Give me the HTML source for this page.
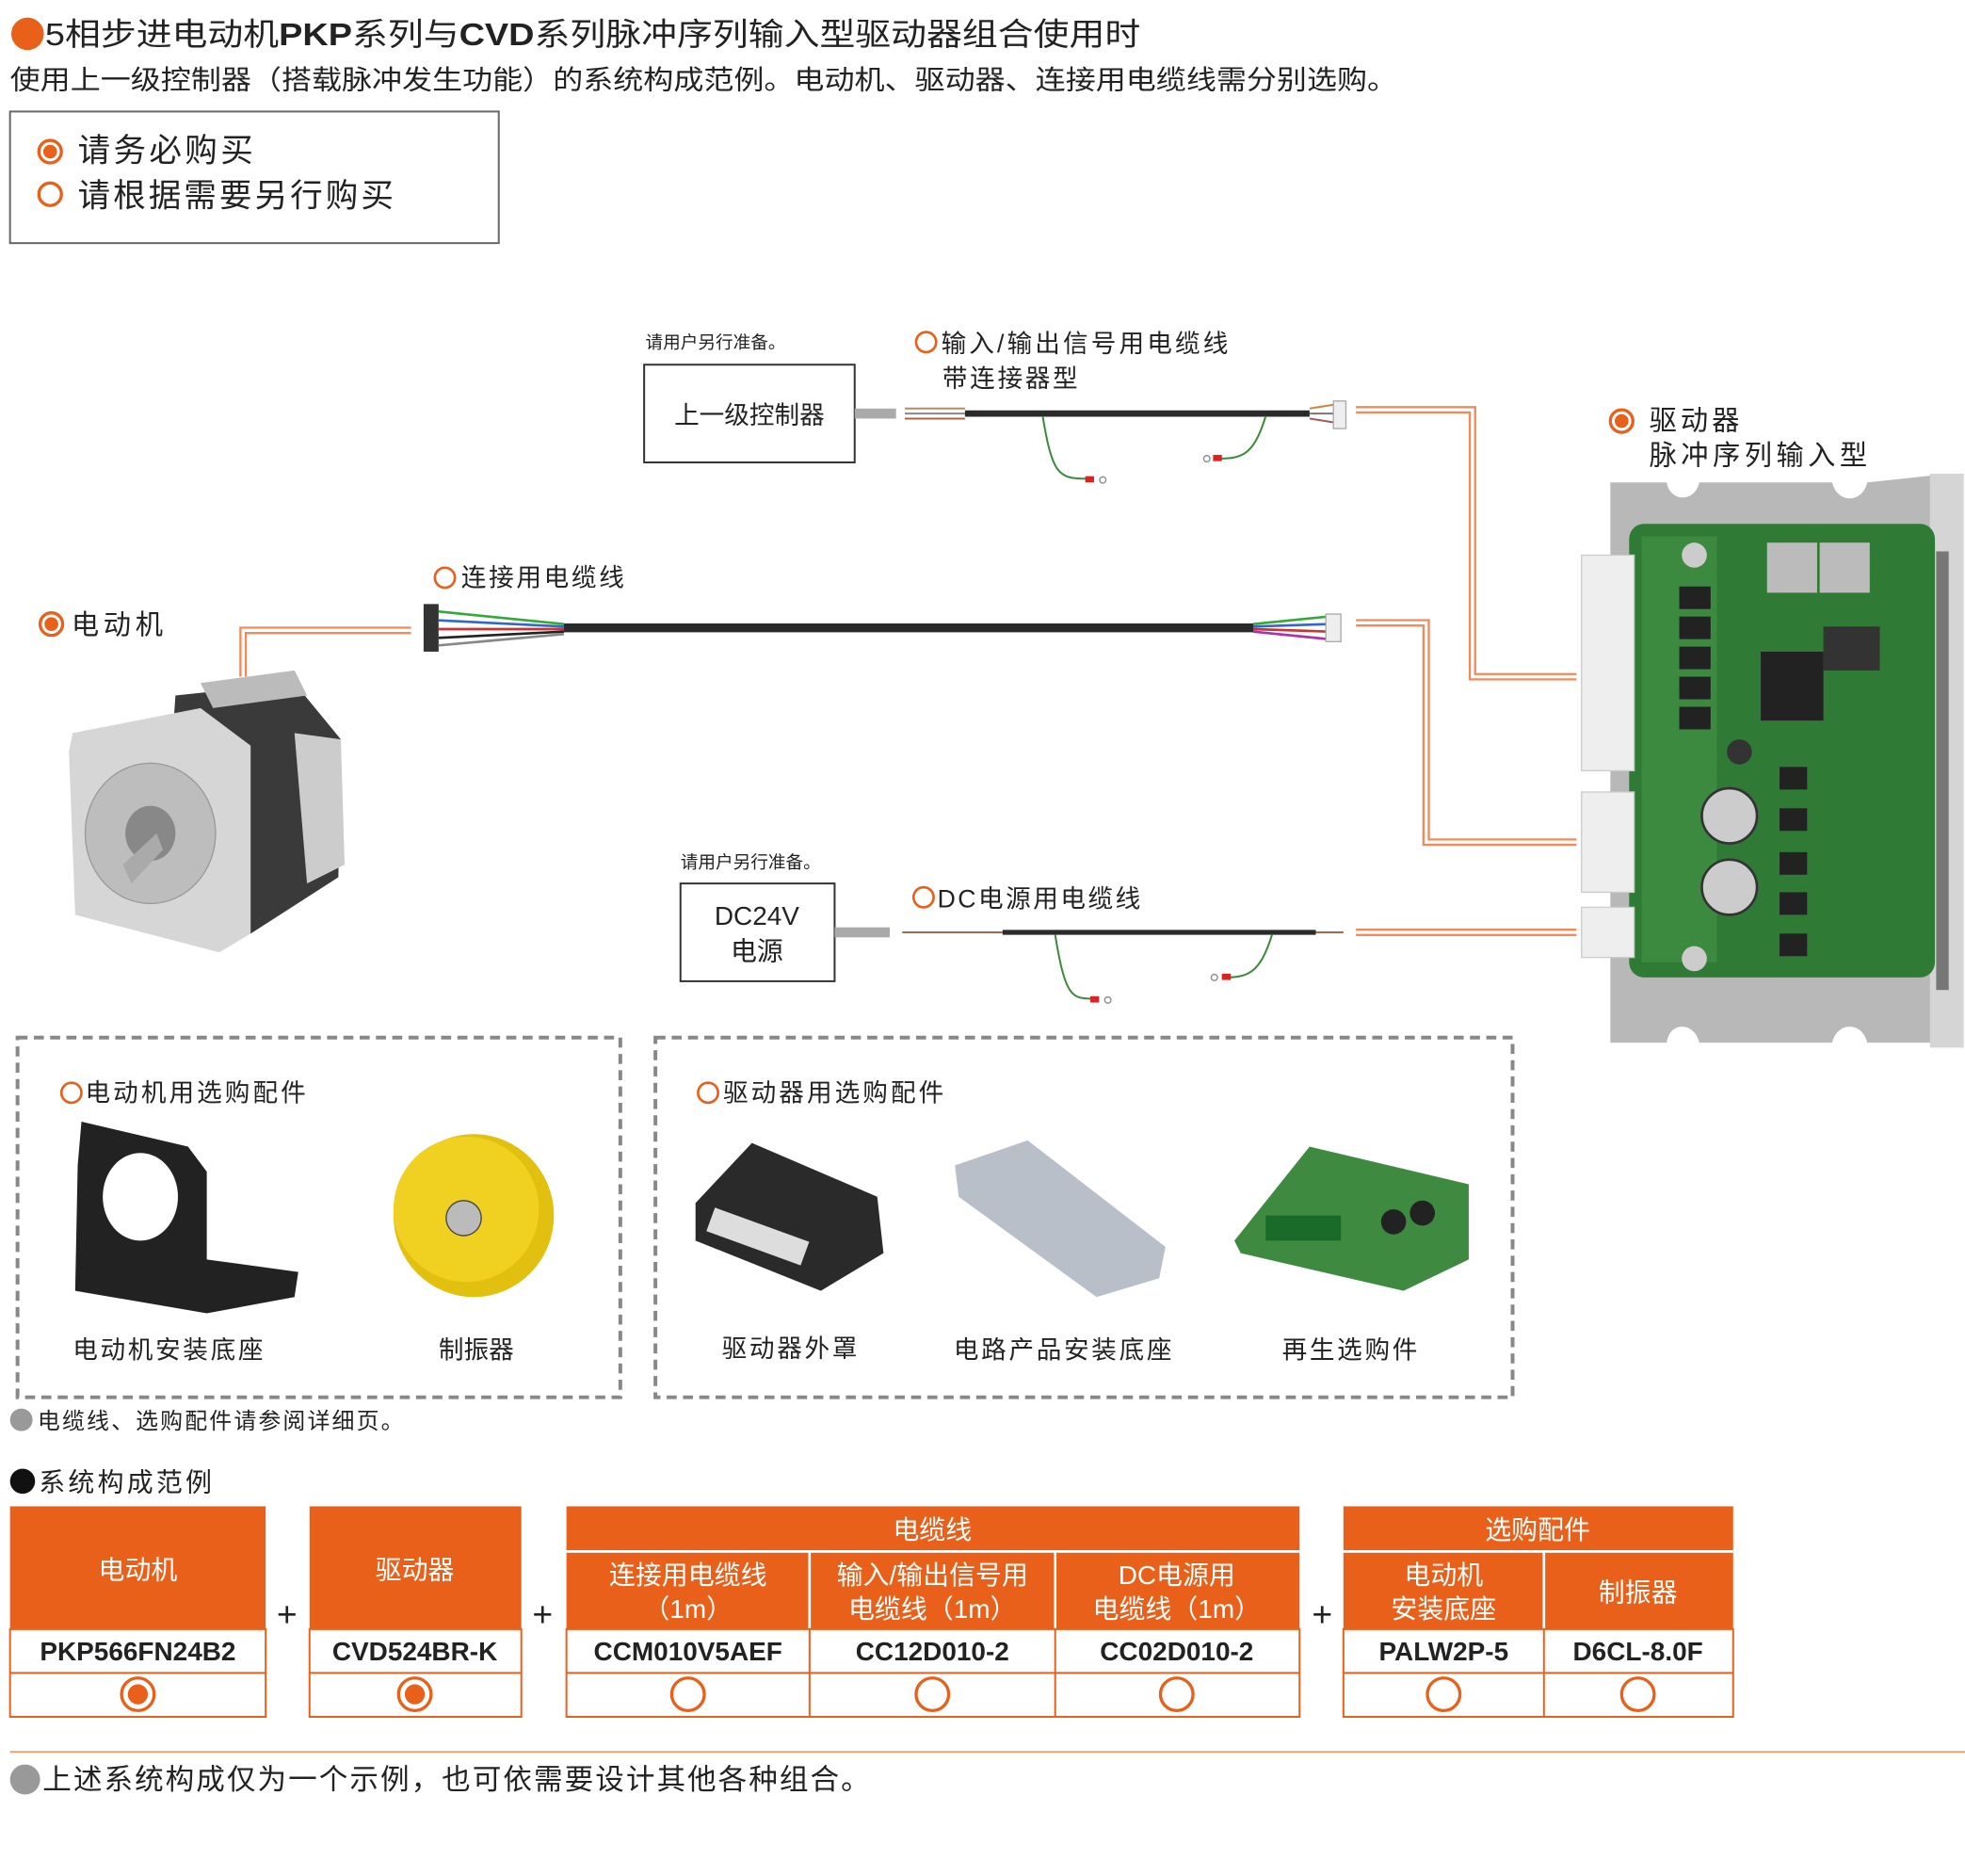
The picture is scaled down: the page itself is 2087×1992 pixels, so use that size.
<!DOCTYPE html>
<html><head><meta charset="utf-8"><style>
html,body{margin:0;padding:0;background:#fff;width:2087px;height:1992px;overflow:hidden}
svg text{font-family:"Liberation Sans","Noto Sans CJK SC",sans-serif}
</style></head><body>
<svg width="2087" height="1992" viewBox="0 0 1568 1497" preserveAspectRatio="none" xmlns="http://www.w3.org/2000/svg">
<defs>
<g id="fr"><circle r="9" fill="#fff" stroke="#e8601a" stroke-width="2.5"/><circle r="5.5" fill="#e8601a"/></g>
<g id="hr"><circle r="9" fill="#fff" stroke="#e8601a" stroke-width="2.5"/></g>
</defs>
<!-- title -->
<circle cx="22" cy="27" r="13" fill="#e8601a"/>
<text x="36" y="36" font-size="25" fill="#222" textLength="874" lengthAdjust="spacingAndGlyphs">5相步进电动机<tspan font-weight="bold">PKP</tspan>系列与<tspan font-weight="bold">CVD</tspan>系列脉冲序列输入型驱动器组合使用时</text>
<text x="8" y="71" font-size="21.5" fill="#222" textLength="1107" lengthAdjust="spacingAndGlyphs">使用上一级控制器（搭载脉冲发生功能）的系统构成范例。电动机、驱动器、连接用电缆线需分别选购。</text>
<rect x="8" y="89" width="390" height="105" fill="none" stroke="#666" stroke-width="1.5"/>
<use href="#fr" x="40" y="121"/><text x="62" y="129" font-size="26" fill="#222" textLength="140">请务必购买</text>
<use href="#hr" x="40" y="155"/><text x="62" y="165" font-size="26" fill="#222" textLength="252">请根据需要另行购买</text>

<!-- orange connectors (double lines) -->
<g fill="none" stroke="#f08a5a" stroke-width="6">
<polyline points="1082,327 1175,327 1175,540 1258,540"/>
<polyline points="194,540 194,503 328,503"/>
<polyline points="1082,497 1138,497 1138,672 1258,672"/>
<polyline points="1082,744 1258,744"/>
</g>
<g fill="none" stroke="#fff" stroke-width="2.5">
<polyline points="1082,327 1175,327 1175,540 1258,540"/>
<polyline points="194,540 194,503 328,503"/>
<polyline points="1082,497 1138,497 1138,672 1258,672"/>
<polyline points="1082,744 1258,744"/>
</g>

<!-- controller -->
<text x="515" y="278" font-size="14" fill="#222">请用户另行准备。</text>
<rect x="514" y="291" width="168" height="78" fill="#fff" stroke="#333" stroke-width="1.5"/>
<text x="598" y="338" font-size="20" fill="#222" text-anchor="middle">上一级控制器</text>
<rect x="682" y="326" width="33" height="8" fill="#aaa"/>
<circle cx="739" cy="273" r="8" fill="#fff" stroke="#e8601a" stroke-width="2"/>
<text x="751" y="281" font-size="20" fill="#222" textLength="229">输入/输出信号用电缆线</text>
<text x="752" y="309" font-size="20" fill="#222" textLength="108">带连接器型</text>
<!-- IO cable -->
<g fill="none">
<line x1="722" y1="326" x2="770" y2="326" stroke="#b86" stroke-width="1.5"/>
<line x1="722" y1="330" x2="770" y2="330" stroke="#888" stroke-width="1.5"/>
<line x1="722" y1="334" x2="770" y2="334" stroke="#a64" stroke-width="1.5"/>
<line x1="770" y1="330" x2="1045" y2="330" stroke="#2a2a2a" stroke-width="5"/>
<line x1="1045" y1="326" x2="1070" y2="322" stroke="#c84" stroke-width="1.5"/>
<line x1="1045" y1="330" x2="1070" y2="330" stroke="#777" stroke-width="1.5"/>
<line x1="1045" y1="334" x2="1070" y2="338" stroke="#a55" stroke-width="1.5"/>
<path d="M832,332 C840,380 845,382 868,382" stroke="#3a8a3a" stroke-width="1.5"/>
<path d="M1010,332 C1000,365 990,366 970,366" stroke="#3a8a3a" stroke-width="1.5"/>
</g>
<rect x="866" y="380" width="7" height="5" fill="#d22"/><circle cx="880" cy="383" r="2.5" fill="none" stroke="#888"/>
<rect x="968" y="363" width="7" height="5" fill="#d22"/><circle cx="963" cy="366" r="2.5" fill="none" stroke="#888"/>
<rect x="1064" y="320" width="10" height="22" fill="#eee" stroke="#aaa"/>

<!-- driver label -->
<use href="#fr" x="1294" y="336"/>
<text x="1316" y="343" font-size="22" fill="#222" textLength="72">驱动器</text>
<text x="1316" y="371" font-size="22" fill="#222" textLength="174">脉冲序列输入型</text>
<!-- driver photo -->
<path d="M1285,385 L1330,385 C1332,400 1352,402 1356,385 L1462,385 C1466,402 1486,402 1490,385 L1555,378 L1555,832 L1490,832 C1486,815 1466,815 1462,832 L1356,832 C1352,815 1332,815 1330,832 L1285,832 Z" fill="#b8b8b8"/>
<rect x="1540" y="378" width="27" height="458" fill="#d5d5d5"/>
<rect x="1545" y="440" width="10" height="350" fill="#777"/>
<rect x="1300" y="418" width="244" height="362" rx="12" fill="#2f7a35"/>
<rect x="1310" y="428" width="60" height="340" fill="#3b8a40"/>
<rect x="1405" y="520" width="50" height="55" fill="#222"/>
<rect x="1410" y="433" width="40" height="40" fill="#bbb"/><rect x="1452" y="433" width="40" height="40" fill="#bbb"/>
<rect x="1455" y="500" width="45" height="35" fill="#333"/>
<circle cx="1380" cy="651" r="22" fill="#ccc" stroke="#333" stroke-width="2"/>
<circle cx="1380" cy="708" r="22" fill="#ccc" stroke="#333" stroke-width="2"/>
<circle cx="1388" cy="600" r="10" fill="#333"/>
<g fill="#222"><rect x="1420" y="612" width="22" height="18"/><rect x="1420" y="645" width="22" height="18"/><rect x="1420" y="680" width="22" height="18"/><rect x="1420" y="712" width="22" height="18"/><rect x="1420" y="745" width="22" height="18"/>
<rect x="1340" y="468" width="25" height="18"/><rect x="1340" y="492" width="25" height="18"/><rect x="1340" y="516" width="25" height="18"/><rect x="1340" y="540" width="25" height="18"/><rect x="1340" y="564" width="25" height="18"/></g>
<circle cx="1352" cy="443" r="10" fill="#ccc"/><circle cx="1352" cy="765" r="10" fill="#ccc"/>
<rect x="1262" y="443" width="42" height="172" fill="#eee" stroke="#ccc"/>
<rect x="1262" y="632" width="42" height="80" fill="#eee" stroke="#ccc"/>
<rect x="1262" y="724" width="42" height="40" fill="#eee" stroke="#ccc"/>

<!-- motor -->
<use href="#fr" x="41" y="498"/>
<text x="57" y="506" font-size="22" fill="#222" textLength="73">电动机</text>
<polygon points="140,555 235,545 272,590 270,700 200,745 130,700" fill="#3a3a3a"/>
<polygon points="160,545 235,535 245,555 170,565" fill="#bbb"/>
<polygon points="58,585 160,565 200,595 200,745 175,760 60,730 55,600" fill="#d6d6d6"/>
<polygon points="235,585 272,590 275,690 245,705" fill="#ccc"/>
<ellipse cx="120" cy="665" rx="52" ry="56" fill="#bdbdbd" stroke="#999"/>
<ellipse cx="120" cy="665" rx="20" ry="22" fill="#888"/>
<polygon points="98,690 125,665 130,678 105,705" fill="#aaa"/>
<!-- connecting cable -->
<circle cx="355" cy="461" r="8" fill="#fff" stroke="#e8601a" stroke-width="2"/>
<text x="368" y="468" font-size="20" fill="#222" textLength="130">连接用电缆线</text>
<rect x="338" y="482" width="12" height="38" fill="#333"/>
<g fill="none" stroke-width="2">
<path d="M350,488 L450,498" stroke="#3a3"/><path d="M350,495 L450,500" stroke="#36c"/><path d="M350,502 L450,502" stroke="#c33"/><path d="M350,509 L450,504" stroke="#222"/><path d="M350,515 L450,506" stroke="#888"/>
<path d="M1000,498 L1060,492" stroke="#3a3"/><path d="M1000,500 L1060,498" stroke="#36c"/><path d="M1000,502 L1060,504" stroke="#c33"/><path d="M1000,504 L1060,510" stroke="#a3a"/>
</g>
<line x1="450" y1="501" x2="1000" y2="501" stroke="#2a2a2a" stroke-width="7"/>
<rect x="1058" y="490" width="12" height="22" fill="#eee" stroke="#aaa"/>
<!-- DC power -->
<text x="543" y="693" font-size="14" fill="#222">请用户另行准备。</text>
<rect x="543" y="705" width="123" height="78" fill="#fff" stroke="#333" stroke-width="1.5"/>
<text x="604" y="738" font-size="21" fill="#222" text-anchor="middle">DC24V</text>
<text x="604" y="766" font-size="21" fill="#222" text-anchor="middle">电源</text>
<rect x="666" y="740" width="44" height="8" fill="#aaa"/>
<circle cx="737" cy="716" r="8" fill="#fff" stroke="#e8601a" stroke-width="2"/>
<text x="748" y="724" font-size="20" fill="#222" textLength="162">DC电源用电缆线</text>
<line x1="720" y1="744" x2="800" y2="744" stroke="#a64" stroke-width="1.5"/>
<line x1="800" y1="744" x2="1050" y2="744" stroke="#2a2a2a" stroke-width="4"/>
<line x1="1050" y1="744" x2="1072" y2="744" stroke="#a64" stroke-width="1.5"/>
<path d="M842,746 C850,795 855,797 872,797" stroke="#3a8a3a" stroke-width="1.5" fill="none"/>
<path d="M1015,746 C1005,778 995,780 975,780" stroke="#3a8a3a" stroke-width="1.5" fill="none"/>
<rect x="870" y="795" width="7" height="5" fill="#d22"/><circle cx="884" cy="798" r="2.5" fill="none" stroke="#888"/>
<rect x="975" y="777" width="7" height="5" fill="#d22"/><circle cx="969" cy="780" r="2.5" fill="none" stroke="#888"/>

<!-- dashed boxes -->
<rect x="14" y="828" width="481" height="287" fill="none" stroke="#888" stroke-width="3" stroke-dasharray="8,5"/>
<rect x="523" y="828" width="684" height="287" fill="none" stroke="#888" stroke-width="3" stroke-dasharray="8,5"/>
<circle cx="57" cy="872" r="8" fill="#fff" stroke="#e8601a" stroke-width="2"/>
<text x="68" y="879" font-size="20" fill="#222" textLength="176">电动机用选购配件</text>
<circle cx="565" cy="872" r="8" fill="#fff" stroke="#e8601a" stroke-width="2"/>
<text x="577" y="879" font-size="20" fill="#222" textLength="176">驱动器用选购配件</text>
<!-- bracket -->
<polygon points="65,895 150,915 165,935 165,1005 238,1015 235,1035 165,1048 60,1030 62,930" fill="#222"/>
<ellipse cx="112" cy="955" rx="30" ry="35" fill="#fff"/>
<!-- damper -->
<ellipse cx="378" cy="970" rx="64" ry="65" fill="#e2c010"/>
<ellipse cx="372" cy="965" rx="58" ry="58" fill="#f0d020"/>
<circle cx="370" cy="972" r="14" fill="#bbb" stroke="#444"/>
<text x="134" y="1084" font-size="20" fill="#222" text-anchor="middle" textLength="152">电动机安装底座</text>
<text x="380" y="1084" font-size="20" fill="#222" text-anchor="middle">制振器</text>
<!-- driver cover -->
<polygon points="555,960 600,912 700,955 705,1000 655,1030 555,990" fill="#2a2a2a"/>
<rect x="565" y="975" width="80" height="20" fill="#ddd" transform="rotate(20 600 985)"/>
<!-- mounting plate -->
<polygon points="762,930 820,910 930,995 925,1020 875,1035 765,955" fill="#b8bfc8"/>
<!-- regen -->
<polygon points="985,990 1045,915 1172,945 1172,1005 1120,1030 990,1000" fill="#3d8a40"/>
<rect x="1010" y="970" width="60" height="20" fill="#1a6a2a"/>
<circle cx="1112" cy="975" r="10" fill="#222"/><circle cx="1135" cy="968" r="10" fill="#222"/>
<text x="630" y="1083" font-size="20" fill="#222" text-anchor="middle" textLength="108">驱动器外罩</text>
<text x="848" y="1084" font-size="20" fill="#222" text-anchor="middle" textLength="174">电路产品安装底座</text>
<text x="1077" y="1084" font-size="20" fill="#222" text-anchor="middle" textLength="108">再生选购件</text>

<circle cx="17" cy="1133" r="9" fill="#999"/>
<text x="30" y="1140" font-size="18" fill="#222" textLength="292">电缆线、选购配件请参阅详细页。</text>
<circle cx="18" cy="1182" r="10" fill="#111"/>
<text x="31" y="1190" font-size="21" fill="#222" textLength="138">系统构成范例</text>

<!-- table -->
<g fill="#e8601a">
<rect x="8" y="1202" width="204" height="98"/>
<rect x="247" y="1202" width="169" height="98"/>
<rect x="452" y="1202" width="585" height="98"/>
<rect x="1072" y="1202" width="311" height="98"/>
</g>
<g stroke="#fff" stroke-width="2">
<line x1="452" y1="1238" x2="1037" y2="1238"/><line x1="1072" y1="1238" x2="1383" y2="1238"/>
<line x1="646" y1="1238" x2="646" y2="1300"/><line x1="842" y1="1238" x2="842" y2="1300"/><line x1="1232" y1="1238" x2="1232" y2="1300"/>
</g>
<g fill="none" stroke="#e8601a" stroke-width="1.5">
<rect x="8" y="1300" width="204" height="70"/><line x1="8" y1="1335" x2="212" y2="1335"/>
<rect x="247" y="1300" width="169" height="70"/><line x1="247" y1="1335" x2="416" y2="1335"/>
<rect x="452" y="1300" width="585" height="70"/><line x1="452" y1="1335" x2="1037" y2="1335"/>
<line x1="646" y1="1300" x2="646" y2="1370"/><line x1="842" y1="1300" x2="842" y2="1370"/>
<rect x="1072" y="1300" width="311" height="70"/><line x1="1072" y1="1335" x2="1383" y2="1335"/>
<line x1="1232" y1="1300" x2="1232" y2="1370"/>
</g>
<g font-size="21" fill="#fff" text-anchor="middle">
<text x="110" y="1260">电动机</text>
<text x="331" y="1260">驱动器</text>
<text x="744" y="1228">电缆线</text>
<text x="1227" y="1228">选购配件</text>
<text x="549" y="1264">连接用电缆线</text><text x="549" y="1291">（1m）</text>
<text x="744" y="1264">输入/输出信号用</text><text x="744" y="1291">电缆线（1m）</text>
<text x="939" y="1264">DC电源用</text><text x="939" y="1291">电缆线（1m）</text>
<text x="1152" y="1264">电动机</text><text x="1152" y="1291">安装底座</text>
<text x="1307" y="1278">制振器</text>
</g>
<g font-size="21" font-weight="bold" fill="#222" text-anchor="middle">
<text x="110" y="1325">PKP566FN24B2</text>
<text x="331" y="1325">CVD524BR-K</text>
<text x="549" y="1325">CCM010V5AEF</text>
<text x="744" y="1325">CC12D010-2</text>
<text x="939" y="1325">CC02D010-2</text>
<text x="1152" y="1325">PALW2P-5</text>
<text x="1307" y="1325">D6CL-8.0F</text>
</g>
<g fill="#fff" stroke="#e8601a" stroke-width="2.5">
<circle cx="110" cy="1352" r="13"/><circle cx="331" cy="1352" r="13"/>
<circle cx="549" cy="1352" r="13"/><circle cx="744" cy="1352" r="13"/><circle cx="939" cy="1352" r="13"/>
<circle cx="1152" cy="1352" r="13"/><circle cx="1307" cy="1352" r="13"/>
</g>
<circle cx="110" cy="1352" r="8" fill="#e8601a"/><circle cx="331" cy="1352" r="8" fill="#e8601a"/>
<g font-size="28" fill="#222" text-anchor="middle"><text x="229" y="1298">+</text><text x="433" y="1298">+</text><text x="1055" y="1298">+</text></g>
<line x1="8" y1="1398" x2="1568" y2="1398" stroke="#f0a070" stroke-width="1.5"/>
<circle cx="20" cy="1420" r="12" fill="#999"/>
<text x="34" y="1428" font-size="23" fill="#222" textLength="660">上述系统构成仅为一个示例，也可依需要设计其他各种组合。</text>
</svg>
</body></html>
